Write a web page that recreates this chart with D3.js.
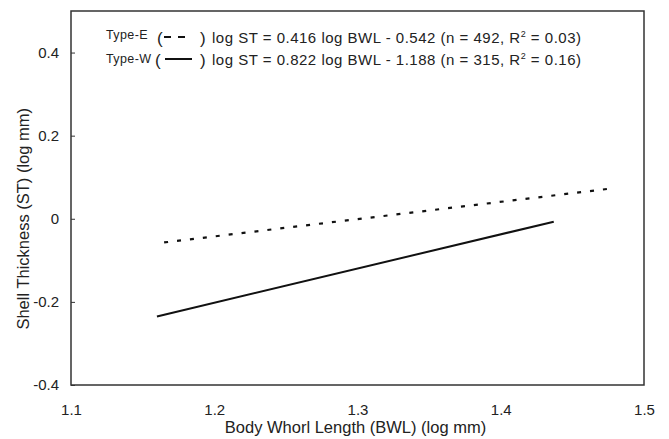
<!DOCTYPE html>
<html>
<head>
<meta charset="utf-8">
<script src="https://cdn.jsdelivr.net/npm/d3@7"></script>
<style>
  body { margin: 0; background: #fff; }
  svg { font-family: "Liberation Sans", Arial, sans-serif; }
  .tick text { font-size: 15px; fill: #222; }
  .axis path { display: none; }
  .axis line { stroke: #333; }
</style>
</head>
<body>
<div id="chart"></div>
<script>
const width = 669, height = 439;

// regression lines, endpoints (log BWL, log ST)
const typeE = [{x: 1.165, y: -0.057}, {x: 1.475, y: 0.072}];
const typeW = [{x: 1.160, y: -0.235}, {x: 1.437, y: -0.007}];

const xTicks = [1.1, 1.2, 1.3, 1.4, 1.5];
const yTicks = [-0.4, -0.2, 0, 0.2, 0.4];

const legendNames = ['Type-E', 'Type-W'];
const legendEquations = [
  ['log ST = 0.416 log BWL - 0.542 (n = 492, R', ' = 0.03)'],
  ['log ST = 0.822 log BWL - 1.188 (n = 315, R', ' = 0.16)']
];

const x = d3.scaleLinear().domain([1.1, 1.5]).range([71, 644]);
const y = d3.scaleLinear().domain([-0.4, 0.5]).range([385, 11]);

const fmt = d => d === 0 ? '0' : d3.format('.1f')(d).replace('\u2212', '-');

const svg = d3.select('#chart').append('svg')
  .attr('width', width)
  .attr('height', height);

// frame
svg.append('rect')
  .attr('x', x(1.1)).attr('y', y(0.5))
  .attr('width', x(1.5) - x(1.1))
  .attr('height', y(-0.4) - y(0.5))
  .attr('fill', 'none')
  .attr('stroke', '#333')
  .attr('stroke-width', 1.5);

svg.append('g')
  .attr('class', 'axis')
  .attr('transform', `translate(${x(1.1)},0)`)
  .call(d3.axisLeft(y).tickValues(yTicks).tickSize(-4).tickPadding(12)
    .tickFormat(fmt));

svg.append('g')
  .attr('class', 'axis')
  .attr('transform', `translate(0,${y(-0.4)})`)
  .call(d3.axisBottom(x).tickValues(xTicks).tickSize(0).tickPadding(19)
    .tickFormat(fmt));

svg.append('text')
  .attr('x', x(1.3) - 2)
  .attr('y', 433)
  .attr('text-anchor', 'middle')
  .attr('font-size', 16.5)
  .attr('fill', '#222')
  .text('Body Whorl Length (BWL) (log mm)');

svg.append('text')
  .attr('transform', `translate(29,${y(0.0)}) rotate(-90)`)
  .attr('text-anchor', 'middle')
  .attr('font-size', 16.5)
  .attr('fill', '#222')
  .text('Shell Thickness (ST) (log mm)');

const line = d3.line()
  .x(d => x(d.x))
  .y(d => y(d.y));

svg.append('path')
  .datum(typeE)
  .attr('d', line)
  .attr('fill', 'none')
  .attr('stroke', '#111')
  .attr('stroke-width', 2.2)
  .attr('stroke-dasharray', '4,9');

svg.append('path')
  .datum(typeW)
  .attr('d', line)
  .attr('fill', 'none')
  .attr('stroke', '#111')
  .attr('stroke-width', 2);

// legend
const nameRows = [39, 63];
const eqRows = [43, 65];
legendNames.forEach((name, i) => {
  const ly = eqRows[i];
  svg.append('text')
    .attr('x', 106).attr('y', nameRows[i])
    .attr('font-size', 12.5)
    .attr('letter-spacing', 0.4)
    .attr('fill', '#222')
    .text(name);
  svg.append('text')
    .attr('x', i === 0 ? 157 : 155).attr('y', ly + 1)
    .attr('font-size', 17)
    .attr('fill', '#222')
    .text('(');
  svg.append('text')
    .attr('x', 200).attr('y', ly + 1)
    .attr('font-size', 17)
    .attr('fill', '#222')
    .text(')');
  svg.append('line')
    .attr('x1', i === 0 ? 164 : 165).attr('x2', i === 0 ? 185 : 192)
    .attr('y1', ly - 6).attr('y2', ly - 6)
    .attr('stroke', '#111')
    .attr('stroke-width', 2)
    .attr('stroke-dasharray', i === 0 ? '7,7' : null);
  const t = svg.append('text')
    .attr('x', 212).attr('y', ly)
    .attr('font-size', 15)
    .attr('letter-spacing', 0.5)
    .attr('fill', '#222');
  t.append('tspan').text(legendEquations[i][0]);
  t.append('tspan').attr('dy', -6).attr('font-size', 9).text('2');
  t.append('tspan').attr('dy', 6).text(legendEquations[i][1]);
});
</script>
</body>
</html>
